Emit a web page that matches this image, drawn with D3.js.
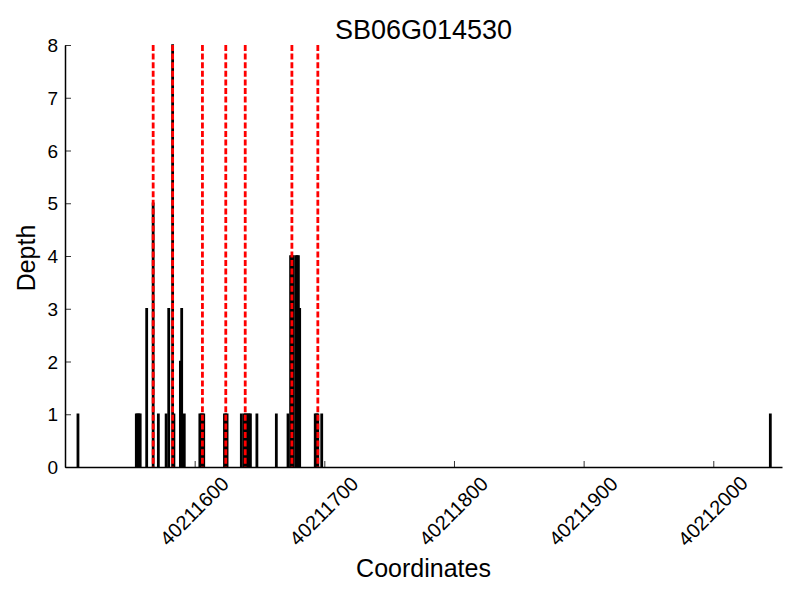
<!DOCTYPE html>
<html>
<head>
<meta charset="utf-8">
<script src="https://cdn.jsdelivr.net/npm/d3@7"></script>
<style>
  html, body { margin: 0; padding: 0; background: #fff; }
  svg { display: block; }
  text { font-family: "Liberation Sans", Arial, Helvetica, sans-serif; fill: #000; }
</style>
</head>
<body>
<script>
// ---- data ----
const title = "SB06G014530";
const xLabel = "Coordinates";
const yLabel = "Depth";
const positions = [40211510,
  40211555, 40211556, 40211557, 40211558,
  40211563, 40211568, 40211572, 40211578, 40211580, 40211583, 40211584,
  40211589, 40211590, 40211592,
  40211604, 40211605, 40211606, 40211607,
  40211623, 40211624, 40211625,
  40211636, 40211638, 40211639, 40211640, 40211641, 40211642, 40211643,
  40211648, 40211663, 40211672,
  40211674, 40211675, 40211676, 40211678, 40211679, 40211680, 40211681,
  40211693, 40211694, 40211695, 40211698,
  40212044];
const depths = [1,
  1, 1, 1, 1,
  3, 5, 1, 1, 3, 8, 1,
  2, 3, 1,
  1, 1, 1, 1,
  1, 1, 1,
  1, 1, 1, 1, 1, 1, 1,
  1, 1, 1,
  4, 4, 4, 4, 4, 4, 3,
  1, 1, 1, 1,
  1];
const markers = [40211568, 40211583, 40211606, 40211624, 40211639, 40211675, 40211695];
const xTicks = [40211600, 40211700, 40211800, 40211900, 40212000];
const yTicks = [0, 1, 2, 3, 4, 5, 6, 7, 8];
const xDomain = [40211500, 40212053];
const yDomain = [0, 8];

// ---- layout ----
const W = 800, H = 600;
const m = { left: 65, right: 18, top: 45, bottom: 133 };
const svg = d3.select("body").append("svg").attr("width", W).attr("height", H);

const x = d3.scaleLinear().domain(xDomain).range([m.left, W - m.right]);
const y = d3.scaleLinear().domain(yDomain).range([H - m.bottom, m.top]);
const bw = x(1) - x(0);

// bars
svg.append("g").selectAll("rect")
  .data(positions.map((p, i) => ({ p, d: depths[i] })))
  .join("rect")
  .attr("x", d => x(d.p) - bw / 2)
  .attr("width", bw)
  .attr("y", d => y(d.d))
  .attr("height", d => y(0) - y(d.d))
  .attr("fill", "#000")
  .attr("stroke", "#000")
  .attr("stroke-width", 1.5);

// marker lines
svg.append("g").selectAll("line")
  .data(markers)
  .join("line")
  .attr("x1", d => x(d)).attr("x2", d => x(d))
  .attr("y1", y(yDomain[1])).attr("y2", y(0))
  .attr("stroke", "#ff0000")
  .attr("stroke-width", 2.8)
  .attr("stroke-dasharray", "6,2.6");

// axes
const xAxis = d3.axisBottom(x).tickValues(xTicks).tickSizeInner(-6).tickSizeOuter(0).tickFormat(d3.format("d"));
const gx = svg.append("g").attr("transform", `translate(0,${y(0)})`).call(xAxis);
gx.select(".domain").attr("stroke", "#000").attr("stroke-width", 1.5);
gx.selectAll(".tick line").attr("stroke", "#000").attr("stroke-width", 0.8);
gx.selectAll(".tick text")
  .attr("font-size", 20)
  .attr("text-anchor", "middle")
  .attr("dominant-baseline", "central")
  .attr("x", 0).attr("y", 0).attr("dy", null)
  .attr("transform", "translate(-1,44) rotate(-45)");

const yAxis = d3.axisLeft(y).tickValues(yTicks).tickSizeInner(-6).tickSizeOuter(0).tickFormat(d3.format("d"));
const gy = svg.append("g").attr("transform", `translate(${m.left},0)`).call(yAxis);
gy.select(".domain").attr("stroke", "#000").attr("stroke-width", 1.5);
gy.selectAll(".tick line").attr("stroke", "#000").attr("stroke-width", 0.8);
gy.selectAll(".tick text").attr("font-size", 19).attr("x", -7).attr("dy", "0.35em");

svg.selectAll(".tick text").attr("font-family", "Liberation Sans, Arial, sans-serif").attr("fill", "#000");

// titles
svg.append("text").attr("x", (m.left + W - m.right) / 2).attr("y", 39)
  .attr("text-anchor", "middle").attr("font-size", 27).text(title);
svg.append("text").attr("x", (m.left + W - m.right) / 2).attr("y", 577)
  .attr("text-anchor", "middle").attr("font-size", 25).text(xLabel);
svg.append("text").attr("transform", `translate(35,${(y(0) + y(8)) / 2 + 2}) rotate(-90)`)
  .attr("text-anchor", "middle").attr("font-size", 25).text(yLabel);
</script>
</body>
</html>
